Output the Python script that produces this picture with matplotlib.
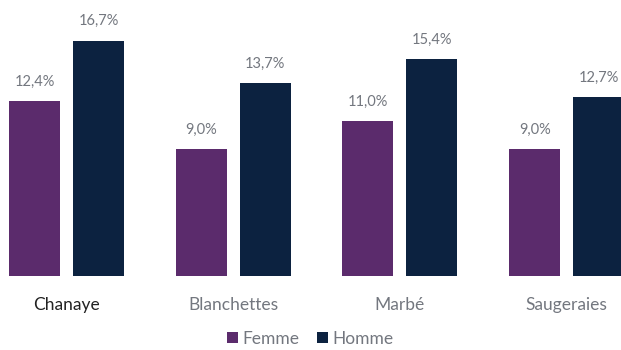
import matplotlib.pyplot as plt
import numpy as np

# donnees
sites = ["Chanaye", "Blanchettes", "Marbé", "Saugeraies"]
femme = [12.4, 9.0, 11.0, 9.0]
homme = [16.7, 13.7, 15.4, 12.7]
femme_lbl = ["12,4%", "9,0%", "11,0%", "9,0%"]
homme_lbl = ["16,7%", "13,7%", "15,4%", "12,7%"]

plt.rcParams['font.family'] = ['Lato', 'DejaVu Sans']

fig = plt.figure(figsize=(6.21, 3.5), dpi=100)
ax = fig.add_axes([0, 0.2114, 1, 0.7886])

x = np.arange(len(sites))
w = 0.306
off = 0.192
b1 = ax.bar(x - off, femme, w, color="#5b2b6c", label="Femme")
b2 = ax.bar(x + off, homme, w, color="#0c2240", label="Homme")

for bars, lbls in [(b1, femme_lbl), (b2, homme_lbl)]:
    for rect, t in zip(bars, lbls):
        ax.annotate(t, (rect.get_x() + rect.get_width() / 2, rect.get_height()),
                    xytext=(0, 9), textcoords="offset points",
                    ha="center", va="bottom", fontsize=10.5, color="#73777f")

ax.set_xlim(-0.399, 3.326)
ax.set_ylim(0, 19.6)
ax.set_xticks(x)
ax.set_xticklabels(sites, fontsize=12.5, color="#73777f")
ax.get_xticklabels()[0].set_color("#222222")
ax.tick_params(axis="x", length=0, pad=15)
ax.set_yticks([])
for s in ax.spines.values():
    s.set_visible(False)

fig.legend(loc="center", bbox_to_anchor=(0.5, 11 / 350), ncol=2, frameon=False,
           fontsize=12.5, handlelength=0.6, handleheight=0.6, handletextpad=0.3,
           columnspacing=1.0, labelcolor="#73777f")

fig.savefig("out.png", dpi=100)
